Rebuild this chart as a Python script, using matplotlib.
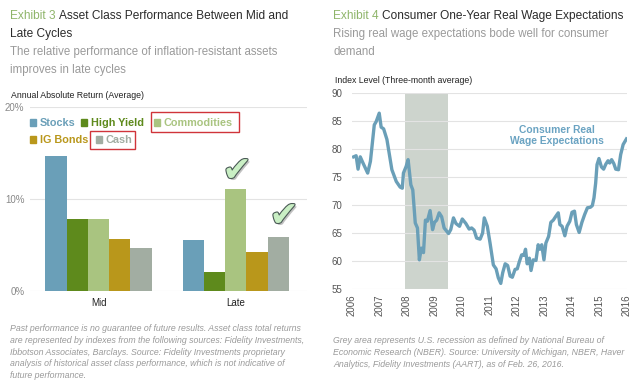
import matplotlib.pyplot as plt
import matplotlib.patheffects as pe
from matplotlib.patches import Rectangle
import numpy as np

plt.rcParams['font.family'] = ['Liberation Sans', 'DejaVu Sans']

# Exhibit 3 data
cycles = ["Mid", "Late"]
assets = ["Stocks", "High Yield", "Commodities", "IG Bonds", "Cash"]
returns = {
    "Stocks":      [14.7, 5.5],
    "High Yield":  [7.8, 2.1],
    "Commodities": [7.8, 11.1],
    "IG Bonds":    [5.6, 4.2],
    "Cash":        [4.7, 5.9],
}
colors = ["#6a9fb8", "#5e8a1c", "#a9c480", "#b9971b", "#a2ada2"]

# Exhibit 4 data
years = [2006.06, 2006.15, 2006.22, 2006.30, 2006.40, 2006.57, 2006.67, 2006.81, 2006.88, 2006.99,
         2007.06, 2007.15, 2007.27, 2007.45, 2007.61, 2007.75, 2007.83, 2007.87, 2007.97, 2008.04,
         2008.14, 2008.21, 2008.30, 2008.38, 2008.45, 2008.52, 2008.60, 2008.67, 2008.74, 2008.84,
         2008.93, 2009.00, 2009.08, 2009.17, 2009.26, 2009.35, 2009.51, 2009.59, 2009.69, 2009.78,
         2009.91, 2010.01, 2010.14, 2010.26, 2010.35, 2010.44, 2010.53, 2010.66, 2010.75, 2010.81,
         2010.92, 2011.02, 2011.14, 2011.24, 2011.32, 2011.41, 2011.48, 2011.57, 2011.66, 2011.75,
         2011.83, 2011.93, 2012.01, 2012.08, 2012.17, 2012.25, 2012.31, 2012.37, 2012.45, 2012.51,
         2012.59, 2012.69, 2012.77, 2012.83, 2012.90, 2012.98, 2013.05, 2013.15, 2013.23, 2013.32,
         2013.40, 2013.50, 2013.56, 2013.64, 2013.74, 2013.82, 2013.92, 2014.00, 2014.09, 2014.16,
         2014.26, 2014.36, 2014.46, 2014.56, 2014.67, 2014.74, 2014.80, 2014.86, 2014.91, 2014.98,
         2015.07, 2015.15, 2015.23, 2015.31, 2015.37, 2015.44, 2015.52, 2015.59, 2015.69, 2015.77,
         2015.86, 2015.98]
wage_exp = [78.6, 78.8, 76.4, 78.6, 77.5, 75.7, 77.8, 84.3, 84.9, 86.4,
            83.9, 83.6, 81.7, 76.3, 74.2, 73.2, 73.0, 75.7, 76.9, 78.1,
            73.6, 72.7, 66.8, 65.9, 60.2, 62.3, 61.5, 67.3, 67.1, 69.0,
            65.6, 66.9, 67.3, 68.6, 67.9, 65.9, 64.9, 65.6, 67.7, 66.7,
            66.2, 67.5, 66.7, 65.7, 65.9, 65.5, 64.1, 63.9, 65.0, 67.7,
            66.2, 63.2, 59.3, 58.6, 57.0, 56.0, 57.9, 59.5, 59.2, 57.3,
            57.1, 58.5, 58.6, 59.8, 61.1, 61.0, 62.1, 59.5, 60.5, 58.3,
            60.2, 60.1, 62.9, 62.1, 62.9, 60.2, 63.2, 64.4, 66.9, 67.3,
            67.9, 68.6, 66.5, 66.2, 64.5, 66.2, 67.1, 68.7, 68.9, 66.5,
            65.1, 66.9, 68.3, 69.5, 69.6, 69.9, 71.3, 73.9, 77.2, 78.3,
            76.8, 76.4, 77.3, 77.9, 77.5, 78.1, 77.4, 76.4, 76.3, 79.0,
            80.8, 81.8]
recession = (2007.92, 2009.5)

W, H = 640, 381
fig = plt.figure(figsize=(W / 100, H / 100), dpi=100)
renderer = fig.canvas.get_renderer()


def px(x, y):
    return x / W, 1 - y / H


def two_tone(x, y, first, rest, size):
    t = fig.text(*px(x, y), first, color="#8fb56a", fontsize=size, va="baseline")
    bb = t.get_window_extent(renderer)
    fig.text(bb.x1 / W + 3 / W, 1 - y / H, rest, color="#2b2b2b", fontsize=size, va="baseline")


grey = "#9a9a9a"
tsize = 8.6
ssize = 8.3

# ---- left panel titles
two_tone(10, 19, "Exhibit 3", "Asset Class Performance Between Mid and", tsize)
fig.text(*px(10, 37), "Late Cycles", color="#2b2b2b", fontsize=tsize, va="baseline")
fig.text(*px(10, 55), "The relative performance of inflation-resistant assets", color=grey, fontsize=ssize, va="baseline")
fig.text(*px(10, 73), "improves in late cycles", color=grey, fontsize=ssize, va="baseline")
fig.text(*px(11, 98), "Annual Absolute Return (Average)", color="#222222", fontsize=6.3, va="baseline")

ax1 = fig.add_axes([30 / W, 1 - 291 / H, 277 / W, 184 / H])
x = np.arange(len(cycles))
bw = 0.155
for i, a in enumerate(assets):
    ax1.bar(x + (i - 2) * bw, returns[a], bw, color=colors[i], zorder=3)
ax1.set_xlim(-0.5, 1.52)
ax1.set_ylim(0, 20)
ax1.set_yticks([0, 10, 20])
ax1.set_yticklabels(["0%", "10%", "20%"])
ax1.set_xticks(x)
ax1.set_xticklabels(cycles)
ax1.grid(axis="y", color="#e3e3e3", lw=0.8, zorder=0)
for s in ax1.spines.values():
    s.set_visible(False)
ax1.tick_params(axis="y", length=0, labelsize=7, labelcolor="#888888", pad=4)
ax1.tick_params(axis="x", length=0, labelsize=7, labelcolor="#222222", pad=5)

# legend drawn by hand
legend_pos = [(30, 122), (81, 122), (154, 122), (30, 139), (96, 139)]
for i, a in enumerate(assets):
    lx, ly = legend_pos[i]
    fig.patches.append(Rectangle(px(lx, ly + 4), 6 / W, 7 / H, transform=fig.transFigure,
                                 color=colors[i]))
    fig.text(*px(lx + 10, ly + 4), a, color=colors[i], fontsize=7.8, fontweight="bold", va="baseline")
for rx, ry, rw, rh in [(151, 112, 88, 20), (90, 131, 45, 18)]:
    fig.patches.append(Rectangle(px(rx, ry + rh), rw / W, rh / H, transform=fig.transFigure,
                                 fill=False, ec="#d0343a", lw=1.0))

# check marks over the late-cycle winners
for cx, cy in [(237, 171), (284, 216)]:
    fig.text(*px(cx, cy), "\u2714", fontsize=25, color="#c9efc4", ha="center", va="center",
             family="DejaVu Sans",
             path_effects=[pe.withSimplePatchShadow(offset=(1.5, -1.5), shadow_rgbFace="#999999", alpha=0.6),
                           pe.Stroke(linewidth=1.6, foreground="#4a5a55"), pe.Normal()])

fig.text(*px(10, 324), "Past performance is no guarantee of future results. Asset class total returns\n"
         "are represented by indexes from the following sources: Fidelity Investments,\n"
         "Ibbotson Associates, Barclays. Source: Fidelity Investments proprietary\n"
         "analysis of historical asset class performance, which is not indicative of\n"
         "future performance.", color=grey, fontsize=6.3, style="italic", va="top", linespacing=1.4)

# ---- right panel
two_tone(333, 19, "Exhibit 4", "Consumer One-Year Real Wage Expectations", tsize)
fig.text(*px(333, 37), "Rising real wage expectations bode well for consumer", color=grey, fontsize=ssize, va="baseline")
fig.text(*px(333, 55), "demand", color=grey, fontsize=ssize, va="baseline")
fig.text(*px(335, 83), "Index Level (Three-month average)", color="#222222", fontsize=6.3, va="baseline")

ax2 = fig.add_axes([352 / W, 1 - 289 / H, 275 / W, 196 / H])
ax2.axvspan(*recession, color="#cdd4cd", zorder=1, lw=0)
ax2.plot(years, wage_exp, color="#6a9fb8", lw=2.4, zorder=3, solid_joinstyle="round")
ax2.set_xlim(2006, 2016)
ax2.set_ylim(55, 90)
ax2.set_yticks(range(55, 91, 5))
ax2.set_xticks(range(2006, 2017))
ax2.set_xticklabels([str(y) for y in range(2006, 2017)], rotation=90)
ax2.grid(axis="y", color="#e3e3e3", lw=0.8, zorder=0)
for s in ax2.spines.values():
    s.set_visible(False)
ax2.tick_params(axis="y", length=0, labelsize=7, labelcolor="#555555", pad=7)
ax2.tick_params(axis="x", length=0, labelsize=7, labelcolor="#555555", pad=4)
ax2.text(2013.45, 82.4, "Consumer Real\nWage Expectations", color="#6aa3c2", fontsize=7.4,
         fontweight="bold", ha="center", va="center", linespacing=1.15)

fig.text(*px(333, 336), "Grey area represents U.S. recession as defined by National Bureau of\n"
         "Economic Research (NBER). Source: University of Michigan, NBER, Haver\n"
         "Analytics, Fidelity Investments (AART), as of Feb. 26, 2016.",
         color=grey, fontsize=6.3, style="italic", va="top", linespacing=1.4)

fig.savefig("out.png", dpi=100)
